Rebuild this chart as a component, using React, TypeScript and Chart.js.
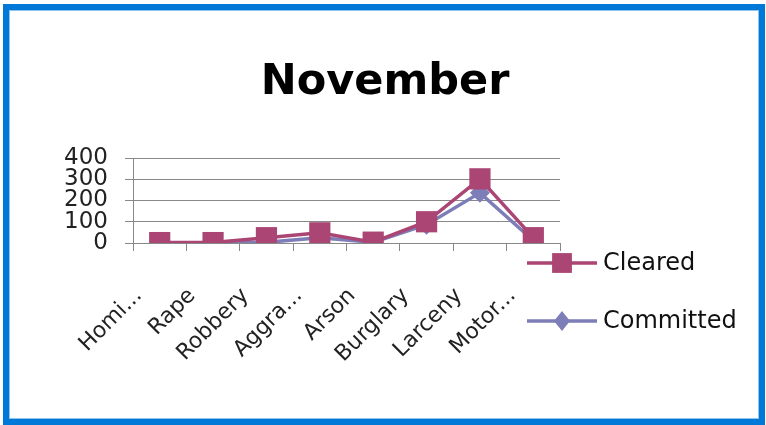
import React, { useEffect, useRef } from "react";
import { Chart, registerables } from "chart.js";

Chart.register(...registerables);

const TITLE = "November";
const CATEGORIES = ["Homi...", "Rape", "Robbery", "Aggra...", "Arson", "Burglary", "Larceny", "Motor..."];
const SERIES_NAMES = ["Cleared", "Committed"];
const CLEARED = [2, 2, 25, 48, 4, 100, 302, 25];
const COMMITTED = [1, 1, 3, 25, 3, 86, 236, 12];
const Y_TICKS = [0, 100, 200, 300, 400];

const PINK = "#AA4574";
const LAVENDER = "#7D7DB8";
const GRID = "#888888";
const FONT = "'DejaVu Sans', sans-serif";

const overlayPlugin = {
  id: "overlay",
  afterDraw(chart: any) {
    const ctx = chart.ctx as CanvasRenderingContext2D;
    ctx.save();
    // title
    ctx.fillStyle = "#000";
    ctx.font = `bold 43px ${FONT}`;
    ctx.textAlign = "center";
    ctx.textBaseline = "alphabetic";
    ctx.fillText(TITLE, 385, 94);

    // legend
    const items = [
      { name: SERIES_NAMES[0], color: PINK, style: "rect", r: 14, y: 263 },
      { name: SERIES_NAMES[1], color: LAVENDER, style: "rectRot", r: 10, y: 321 },
    ];
    items.forEach((it) => {
      ctx.strokeStyle = it.color;
      ctx.lineWidth = 3.5;
      ctx.beginPath();
      ctx.moveTo(527, it.y);
      ctx.lineTo(597, it.y);
      ctx.stroke();
      ctx.fillStyle = it.color;
      ctx.beginPath();
      if (it.style === "rect") {
        const s = it.r * Math.SQRT1_2;
        ctx.rect(562 - s, it.y - s, 2 * s, 2 * s);
      } else {
        ctx.moveTo(562 - it.r * 0.8, it.y);
        ctx.lineTo(562, it.y - it.r);
        ctx.lineTo(562 + it.r * 0.8, it.y);
        ctx.lineTo(562, it.y + it.r);
        ctx.closePath();
      }
      ctx.fill();
      ctx.fillStyle = "#111";
      ctx.font = `24px ${FONT}`;
      ctx.textAlign = "left";
      ctx.textBaseline = "middle";
      ctx.fillText(it.name, 603, it.y + 1);
    });
    ctx.restore();
  },
};

export default function App() {
  const ref = useRef<HTMLCanvasElement>(null);

  useEffect(() => {
    document.body.style.margin = "0";
    const canvas = ref.current!;
    const chart = new Chart(canvas, {
      type: "line",
      data: {
        labels: CATEGORIES,
        datasets: [
          {
            label: SERIES_NAMES[0],
            data: CLEARED,
            borderColor: PINK,
            backgroundColor: PINK,
            borderWidth: 3.5,
            pointStyle: "rect",
            pointRadius: 15,
            pointBorderWidth: 0,
            tension: 0,
          },
          {
            label: SERIES_NAMES[1],
            data: COMMITTED,
            borderColor: LAVENDER,
            backgroundColor: LAVENDER,
            borderWidth: 3.5,
            pointStyle: "rectRot",
            pointRadius: 10,
            pointBorderWidth: 0,
            tension: 0,
          },
        ],
      },
      options: {
        animation: false,
        responsive: false,
        devicePixelRatio: 1,
        layout: { padding: { top: 158, right: 206, left: 0, bottom: 0 } },
        plugins: {
          legend: { display: false },
          title: { display: false },
          tooltip: { enabled: false },
        },
        scales: {
          x: {
            offset: true,
            grid: {
              offset: true,
              drawOnChartArea: false,
              drawTicks: true,
              tickLength: 8,
              color: GRID,
            },
            border: { color: GRID, width: 1 },
            ticks: {
              autoSkip: false,
              minRotation: 45,
              maxRotation: 45,
              labelOffset: -21,
              padding: 32,
              color: "#222",
              font: { family: FONT, size: 22 },
            },
            afterFit: (scale: any) => {
              scale.height = 182;
            },
          },
          y: {
            min: Y_TICKS[0],
            max: Y_TICKS[Y_TICKS.length - 1],
            afterBuildTicks: (scale: any) => {
              scale.ticks = Y_TICKS.map((v) => ({ value: v }));
            },
            grid: { color: GRID, tickLength: 8 },
            border: { color: GRID, width: 1 },
            ticks: {
              autoSkip: false,
              padding: 17,
              color: "#222",
              font: { family: FONT, size: 23 },
            },
            afterFit: (scale: any) => {
              scale.width = 133;
            },
          },
        },
      },
      plugins: [overlayPlugin],
    });
    return () => chart.destroy();
  }, []);

  return (
    <div style={{ position: "fixed", left: 0, top: 0, width: 766, height: 425, background: "#fff" }}>
      <canvas ref={ref} width={766} height={425} style={{ position: "absolute", left: 0, top: 0 }} />
      <div
        style={{
          position: "absolute",
          left: 3,
          top: 4,
          width: 762,
          height: 421,
          boxSizing: "border-box",
          border: "6px solid #0078D7",
          boxShadow: "inset 0 0 0 1px #8EC3EE",
          pointerEvents: "none",
        }}
      />
    </div>
  );
}
